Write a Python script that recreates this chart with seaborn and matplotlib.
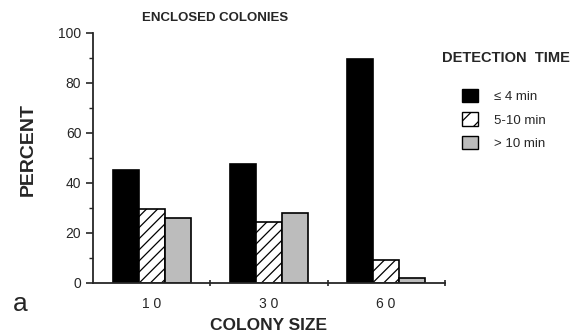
import pandas as pd
import numpy as np
import matplotlib.pyplot as plt
import seaborn as sns
from matplotlib.patches import Patch
from matplotlib.ticker import MultipleLocator

colony_size = ['10', '30', '60']
detection = ['\u2264 4 min', '5-10 min', '> 10 min']
le4 = [45, 47.5, 89.5]
from5to10 = [29.5, 24.3, 9]
gt10 = [26, 28, 2]

df = pd.DataFrame({
    'size': colony_size * 3,
    'time': [detection[0]] * 3 + [detection[1]] * 3 + [detection[2]] * 3,
    'pct': le4 + from5to10 + gt10,
})

sns.set_style('ticks')
plt.rcParams['font.family'] = ['Liberation Sans', 'DejaVu Sans']
plt.rcParams['hatch.linewidth'] = 0.9

fig = plt.figure(figsize=(5.86, 3.36), dpi=100)
ax = fig.add_axes([0.159, 0.158, 0.600, 0.744])

cols = ['black', 'white', '#bcbcbc']
sns.barplot(data=df, x='size', y='pct', hue='time', order=colony_size,
            hue_order=detection, palette=cols, width=0.67, ax=ax,
            edgecolor='black', linewidth=1.2, legend=False, errorbar=None)
hatches = ['', '///', '']
for cont, h in zip(ax.containers, hatches):
    for b in cont:
        b.set_hatch(h)

ax.set_xlim(-0.5, 2.5)
ax.set_ylim(0, 100)
ax.yaxis.set_major_locator(MultipleLocator(20))
ax.yaxis.set_minor_locator(MultipleLocator(10))
ax.set_xticks([0.5, 1.5, 2.5], minor=True)
ax.set_xticks([0, 1, 2])
ax.set_xticklabels(['1 0', '3 0', '6 0'], fontsize=10)
ax.tick_params(axis='x', which='major', length=0, pad=10)
ax.tick_params(axis='x', which='minor', length=4, direction='inout', width=1.2)
ax.tick_params(axis='y', which='major', length=5, width=1.2, labelsize=10)
ax.tick_params(axis='y', which='minor', length=3, width=1)
for s in ['left', 'bottom']:
    ax.spines[s].set_linewidth(1.3)
sns.despine(ax=ax)
ax.set_xlabel('')
ax.set_ylabel('')

fig.text(268 / 586, 1 - 326 / 336, 'COLONY SIZE', ha='center', va='center',
         fontsize=12.5, fontweight='bold')
fig.text(28 / 586, 1 - 150 / 336, 'PERCENT', ha='center', va='center',
         rotation=90, fontsize=14, fontweight='bold')
fig.text(215 / 586, 1 - 18 / 336, 'ENCLOSED COLONIES', ha='center', va='center',
         fontsize=9.5, fontweight='bold')
fig.text(13 / 586, 1 - 304 / 336, 'a', ha='left', va='center', fontsize=19)
fig.text(442 / 586, 1 - 58 / 336, 'DETECTION  TIME', ha='left', va='center',
         fontsize=10.5, fontweight='bold')

handles = [Patch(facecolor=c, edgecolor='black', hatch=h, linewidth=1)
           for c, h in zip(cols, ['', '//', ''])]
fig.legend(handles, detection, loc='upper left',
           bbox_to_anchor=(450 / 586, 1 - 77 / 336), frameon=False,
           handlelength=1.2, handleheight=1.2, handletextpad=1.25,
           labelspacing=0.7, fontsize=9.5)

fig.savefig('out.png', dpi=100)
